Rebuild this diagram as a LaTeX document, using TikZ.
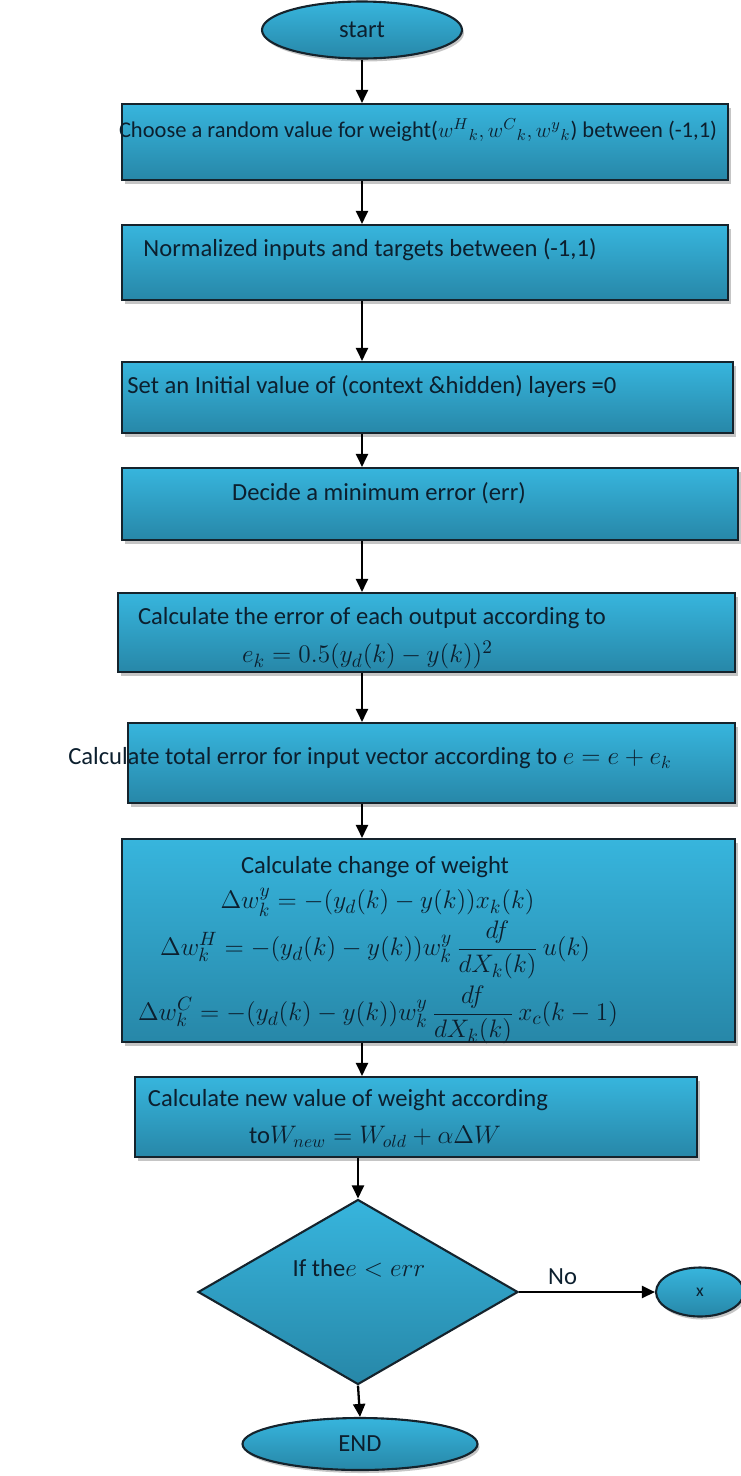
\documentclass[tikz,border=0pt]{standalone}
\usepackage{fontspec}
\setmainfont{Carlito}
\usetikzlibrary{shapes.geometric,positioning,arrows.meta,shadows}
\definecolor{boxtop}{HTML}{37B5DD}
\definecolor{boxbot}{HTML}{2787A8}
\definecolor{boxline}{HTML}{15232C}
\definecolor{inktext}{HTML}{0C1F2E}

\begin{document}
\begin{tikzpicture}[
  stepbox/.style={rectangle, draw=boxline, line width=1.2pt, top color=boxtop, bottom color=boxbot,
    drop shadow={shadow xshift=0.05cm, shadow yshift=-0.07cm, fill=black!45}},
  term/.style={ellipse, draw=boxline, line width=1.2pt, top color=boxtop, bottom color=boxbot,
    drop shadow={shadow xshift=0.04cm, shadow yshift=-0.06cm, fill=black!45},
    font=\fontsize{14}{16}\selectfont, text=inktext},
  txt/.style={font=\fontsize{14}{16}\selectfont, text=inktext, inner sep=0pt},
  eqn/.style={font=\fontsize{15.5}{18}\selectfont, text=inktext, inner sep=0pt},
  arrow/.style={-{Triangle[length=2.6mm, width=2.4mm]}, line width=1.3pt},
]
\useasboundingbox (0,0) rectangle (14.82,-29.52);

% === terminals ===
\node[term, minimum width=4cm, minimum height=1.14cm] (start) at (7.24,-0.6) {start};
\node[term, minimum width=4.7cm, minimum height=1.04cm] (stop) at (7.2,-28.88) {END};

% === process boxes ===
\node[stepbox, minimum width=12.12cm, minimum height=1.52cm] (b1) at (8.5,-2.84) {};
\node[stepbox, minimum width=12.12cm, minimum height=1.5cm] (b2) at (8.5,-5.25) {};
\node[stepbox, minimum width=12.22cm, minimum height=1.42cm] (b3) at (8.55,-7.95) {};
\node[stepbox, minimum width=12.32cm, minimum height=1.44cm] (b4) at (8.6,-10.08) {};
\node[stepbox, minimum width=12.34cm, minimum height=1.58cm] (b5) at (8.53,-12.65) {};
\node[stepbox, minimum width=12.14cm, minimum height=1.6cm] (b6) at (8.63,-15.26) {};
\node[stepbox, minimum width=12.26cm, minimum height=4.06cm] (b7) at (8.57,-18.81) {};
\node[stepbox, minimum width=11.24cm, minimum height=1.6cm] (b8) at (8.32,-22.34) {};

\node[txt, font=\fontsize{12.8}{16}\selectfont] (t1) at (8.36,-2.6) {Choose a random value for weight(${w^{H}}_{k},{w^{C}}_{k},{w^{y}}_{k}$) between (-1,1)};
\node[txt] (t2) at (7.4,-5.0) {Normalized inputs and targets between (-1,1)};
\node[txt] (t3) at (7.44,-7.72) {Set an Initial value of (context \&hidden) layers =0};
\node[txt] (t4) at (7.58,-9.86) {Decide a minimum error (err)};
\node[txt] (t5) at (7.44,-12.36) {Calculate the error of each output according to};
\node[eqn] (e5) at (7.35,-13.1) {$e_k = 0.5(y_d(k) - y(k))^2$};
\node[txt] (t6) at (7.4,-15.16) {Calculate total error for input vector according to $e = e + e_k$};
\node[txt] (t7) at (7.5,-17.34) {Calculate change of weight};
\node[eqn] (e7a) at (7.55,-18.04) {$\Delta w_k^{y} = -\bigl(y_d(k) - y(k)\bigr)x_k(k)$};
\node[eqn] (e7b) at (7.5,-19.0) {$\displaystyle \Delta w_k^{H} = -\bigl(y_d(k) - y(k)\bigr)w_k^{y}\,\frac{df}{dX_k(k)}\,u(k)$};
\node[eqn] (e7c) at (7.56,-20.3) {$\displaystyle \Delta w_k^{C} = -\bigl(y_d(k) - y(k)\bigr)w_k^{y}\,\frac{df}{dX_k(k)}\,x_c(k-1)$};
\node[txt] (t8) at (6.96,-22.0) {Calculate new value of weight according};
\node[eqn] (e8) at (7.5,-22.74) {\fontsize{14}{16}\selectfont to$W_{new} = W_{old} + \alpha\Delta W$};

% === decision ===
\node[diamond, draw=boxline, line width=1.2pt, top color=boxtop, bottom color=boxbot,
  minimum width=6.4cm, minimum height=3.7cm] (dec) at (7.16,-25.84) {};
\node[txt] (td) at (7.18,-25.36) {If the$e < err$};
\node[term, minimum width=1.76cm, minimum height=0.98cm, font=\fontsize{10}{12}\selectfont] (xe) at (14.0,-25.84) {x};

% === connectors ===
\draw[arrow] (start.south) -- (start.south |- b1.north);
\draw[arrow] (b1.south -| start) -- (b2.north -| start);
\draw[arrow] (b2.south -| start) -- (b3.north -| start);
\draw[arrow] (b3.south -| start) -- (b4.north -| start);
\draw[arrow] (b4.south -| start) -- (b5.north -| start);
\draw[arrow] (b5.south -| start) -- (b6.north -| start);
\draw[arrow] (b6.south -| start) -- (b7.north -| start);
\draw[arrow] (b7.south -| start) -- (b8.north -| start);
\draw[arrow] (b8.south -| dec) -- (dec.north);
\draw[arrow] (dec.south) -- (stop.north);
\draw[arrow] (dec.east) -- node[txt, pos=0.32, above=0.12cm] {No} (xe.west);

\end{tikzpicture}
\end{document}
